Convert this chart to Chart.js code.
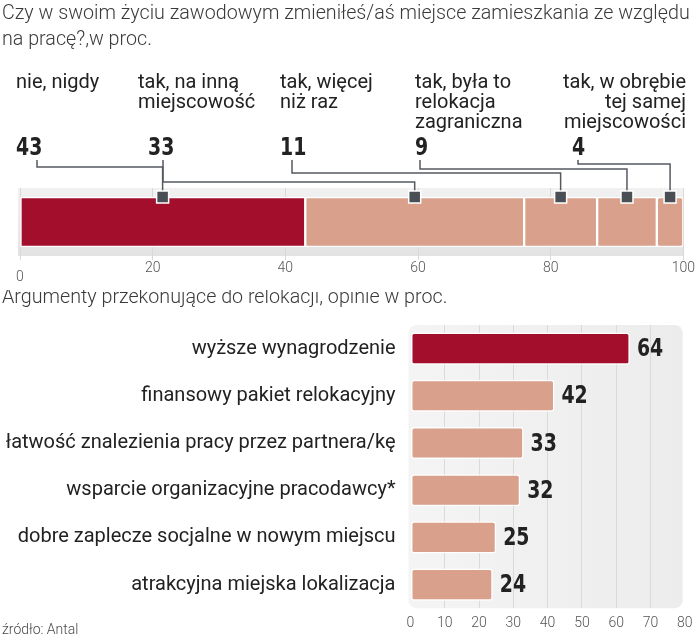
<!DOCTYPE html>
<html>
<head>
<meta charset="utf-8">
<script src="https://cdn.jsdelivr.net/npm/chart.js@4.4.1/dist/chart.umd.min.js"></script>
<style>
    html, body { margin: 0; padding: 0; background: #fff; }
    #wrap { position: relative; width: 699px; height: 640px; overflow: hidden; }
    #topChart { position: absolute; left: 0; top: 0; }
    #bottomChart { position: absolute; left: 0; top: 290px; }
</style>
</head>
<body>
<div id="wrap">
    <canvas id="topChart" width="699" height="292"></canvas>
    <canvas id="bottomChart" width="699" height="350"></canvas>
</div>
<script>
    'use strict';

    // --- data ---
    let topTitle = ['Czy w swoim życiu zawodowym zmieniłeś/aś miejsce zamieszkania ze względu', 'na pracę?,w proc.'];
    let topCategories = [
        ['nie, nigdy'],
        ['tak, na inną', 'miejscowość'],
        ['tak, więcej', 'niż raz'],
        ['tak, była to', 'relokacja', 'zagraniczna'],
        ['tak, w obrębie', 'tej samej', 'miejscowości']
    ];
    let topValues = [43, 33, 11, 9, 4];
    let topTicks = [0, 20, 40, 60, 80, 100];

    let bottomTitle = 'Argumenty przekonujące do relokacji, opinie w proc.';
    let bottomCategories = [
        'wyższe wynagrodzenie',
        'finansowy pakiet relokacyjny',
        'łatwość znalezienia pracy przez partnera/kę',
        'wsparcie organizacyjne pracodawcy*',
        'dobre zaplecze socjalne w nowym miejscu',
        'atrakcyjna miejska lokalizacja'
    ];
    let bottomValues = [64, 42, 33, 32, 25, 24];
    let bottomTicks = [0, 10, 20, 30, 40, 50, 60, 70, 80];

    let sourceText = 'źródło: Antal';

    // --- styles ---
    const RED = '#a20e2b';
    const PINK = '#d9a08b';
    const TEXT = '#222';
    const LIGHT_TEXT = '#4a4a4a';
    const NUM_FONT = "bold 25px 'DejaVu Sans Condensed', sans-serif";

    Chart.defaults.font.family = 'Roboto';
    Chart.defaults.color = LIGHT_TEXT;

    // narrow bold numbers, like the condensed face of the original
    let drawNumber = function (ctx, text, x, y) {
        ctx.save();
        ctx.translate(x, y);
        ctx.scale(0.84, 1);
        ctx.font = NUM_FONT;
        ctx.fillStyle = TEXT;
        ctx.textAlign = 'left';
        ctx.fillText(text, 0, 0);
        ctx.restore();
    };

    // label / number placement for the top chart (layout only)
    let topLabelX = [16, 138, 280, 415, 686];
    let topLabelAlign = ['left', 'left', 'left', 'left', 'right'];
    let topNumX = [16, 148, 280, 415, 572];
    let topLeadX = [37, 163, 292, 420, 578];
    let topElbowY = [167, 182, 173, 169, 164];

    let topBandPlugin = {
        id: 'topBand',
        beforeDraw: function (chart) {
            let ctx = chart.ctx, a = chart.chartArea;
            let g = ctx.createLinearGradient(0, a.top, 0, a.bottom);
            g.addColorStop(0, '#f1f1f1');
            g.addColorStop(1, '#e3e3e3');
            ctx.save();
            ctx.fillStyle = g;
            ctx.fillRect(a.left - 2, a.top, a.right - a.left + 2, a.bottom - a.top);
            ctx.restore();
        },
        afterDatasetsDraw: function (chart) {
            let ctx = chart.ctx;
            let xScale = chart.scales.x;
            ctx.save();

            // title
            ctx.fillStyle = '#3a3a3a';
            ctx.font = '300 19.7px Roboto';
            ctx.textBaseline = 'alphabetic';
            ctx.textAlign = 'left';
            topTitle.forEach(function (line, i) {
                ctx.fillText(line, 2, 19 + i * 26);
            });

            // category labels
            ctx.fillStyle = TEXT;
            ctx.font = '400 20px Roboto';
            topCategories.forEach(function (lines, i) {
                ctx.textAlign = topLabelAlign[i];
                lines.forEach(function (line, j) {
                    ctx.fillText(line, topLabelX[i], 88 + j * 20);
                });
            });

            // values
            topValues.forEach(function (v, i) {
                drawNumber(ctx, String(v), topNumX[i], 155);
            });

            // connectors and markers
            let cum = 0;
            topValues.forEach(function (v, i) {
                let el = chart.getDatasetMeta(i).data[0];
                let cx = xScale.getPixelForValue(cum + v / 2);
                let barTop = el.y - el.height / 2;
                cum += v;

                ctx.strokeStyle = '#555a5f';
                ctx.lineWidth = 1.5;
                ctx.beginPath();
                ctx.moveTo(topLeadX[i], 160);
                ctx.lineTo(topLeadX[i], topElbowY[i]);
                ctx.lineTo(cx, topElbowY[i]);
                ctx.lineTo(cx, barTop);
                ctx.stroke();

                ctx.fillStyle = '#4a4f55';
                ctx.strokeStyle = '#fff';
                ctx.lineWidth = 1.5;
                ctx.fillRect(cx - 6, barTop - 6, 12, 12);
                ctx.strokeRect(cx - 6, barTop - 6, 12, 12);
            });
            ctx.restore();
        }
    };

    let topChart = new Chart(document.getElementById('topChart'), {
        type: 'bar',
        data: {
            labels: [''],
            datasets: topValues.map(function (v, i) {
                return {
                    data: [v],
                    backgroundColor: i === 0 ? RED : PINK,
                    borderColor: '#fff',
                    borderWidth: 1.5,
                    borderRadius: 3,
                    borderSkipped: false,
                    barThickness: 50
                };
            })
        },
        options: {
            responsive: false,
            animation: false,
            indexAxis: 'y',
            layout: { padding: { left: 20, right: 14, top: 188, bottom: 6 } },
            plugins: { legend: { display: false }, tooltip: { enabled: false } },
            scales: {
                x: {
                    stacked: true,
                    min: 0,
                    max: 100,
                    afterBuildTicks: function (scale) {
                        scale.ticks = topTicks.map(function (t) { return { value: t }; });
                    },
                    grid: { color: '#d9d9d9', tickLength: 4, drawTicks: true },
                    border: { display: false },
                    ticks: {
                        padding: 4,
                        maxRotation: 0,
                        font: { size: 14, weight: '300', lineHeight: '9px' },
                        color: '#555',
                        callback: function (v) { return v === 0 ? ['', '0'] : String(v); }
                    }
                },
                y: { stacked: true, display: false }
            }
        },
        plugins: [topBandPlugin]
    });

    let bottomBandPlugin = {
        id: 'bottomBand',
        beforeDraw: function (chart) {
            let ctx = chart.ctx, a = chart.chartArea;
            let g = ctx.createLinearGradient(a.left, 0, a.right, 0);
            g.addColorStop(0, '#f4f4f4');
            g.addColorStop(1, '#ececec');
            ctx.save();
            ctx.fillStyle = g;
            ctx.beginPath();
            ctx.roundRect(a.left - 2, a.top, a.right - a.left, a.bottom - a.top, 8);
            ctx.fill();
            ctx.restore();
        },
        afterDatasetsDraw: function (chart) {
            let ctx = chart.ctx;
            ctx.save();
            ctx.fillStyle = '#3a3a3a';
            ctx.font = '300 19.7px Roboto';
            ctx.textAlign = 'left';
            ctx.textBaseline = 'alphabetic';
            ctx.fillText(bottomTitle, 2, 13);

            ctx.font = '300 14px Roboto';
            ctx.fillStyle = LIGHT_TEXT;
            ctx.textBaseline = 'middle';
            ctx.fillText(sourceText, 2, 340);

            chart.getDatasetMeta(0).data.forEach(function (el, i) {
                drawNumber(ctx, String(bottomValues[i]), el.x + 7, el.y + 1);
            });
            ctx.restore();
        }
    };

    let bottomChart = new Chart(document.getElementById('bottomChart'), {
        type: 'bar',
        data: {
            labels: bottomCategories,
            datasets: [{
                data: bottomValues,
                backgroundColor: bottomValues.map(function (v, i) { return i === 0 ? RED : PINK; }),
                borderColor: '#fff',
                borderWidth: 1.5,
                borderRadius: 3,
                borderSkipped: false,
                categoryPercentage: 1,
                barPercentage: 0.68
            }]
        },
        options: {
            responsive: false,
            animation: false,
            indexAxis: 'y',
            layout: { padding: { left: 0, right: 13, top: 35, bottom: 2 } },
            plugins: { legend: { display: false }, tooltip: { enabled: false } },
            scales: {
                x: {
                    min: 0,
                    max: 80,
                    afterBuildTicks: function (scale) {
                        scale.ticks = bottomTicks.map(function (t) { return { value: t }; });
                    },
                    grid: {
                        drawTicks: false,
                        color: function (c) {
                            let v = c.tick ? c.tick.value : null;
                            return (v === 0 || v === 80) ? 'rgba(0,0,0,0)' : '#dadada';
                        }
                    },
                    border: { display: false },
                    ticks: {
                        padding: 6.5,
                        maxRotation: 0,
                        font: { size: 14, weight: '300' },
                        color: '#555'
                    }
                },
                y: {
                    grid: { display: false },
                    border: { display: false },
                    afterFit: function (scale) { scale.width = 410.5; },
                    ticks: {
                        padding: 7,
                        color: TEXT,
                        font: { size: 20, weight: '400' }
                    }
                }
            }
        },
        plugins: [bottomBandPlugin]
    });
</script>
</body>
</html>
